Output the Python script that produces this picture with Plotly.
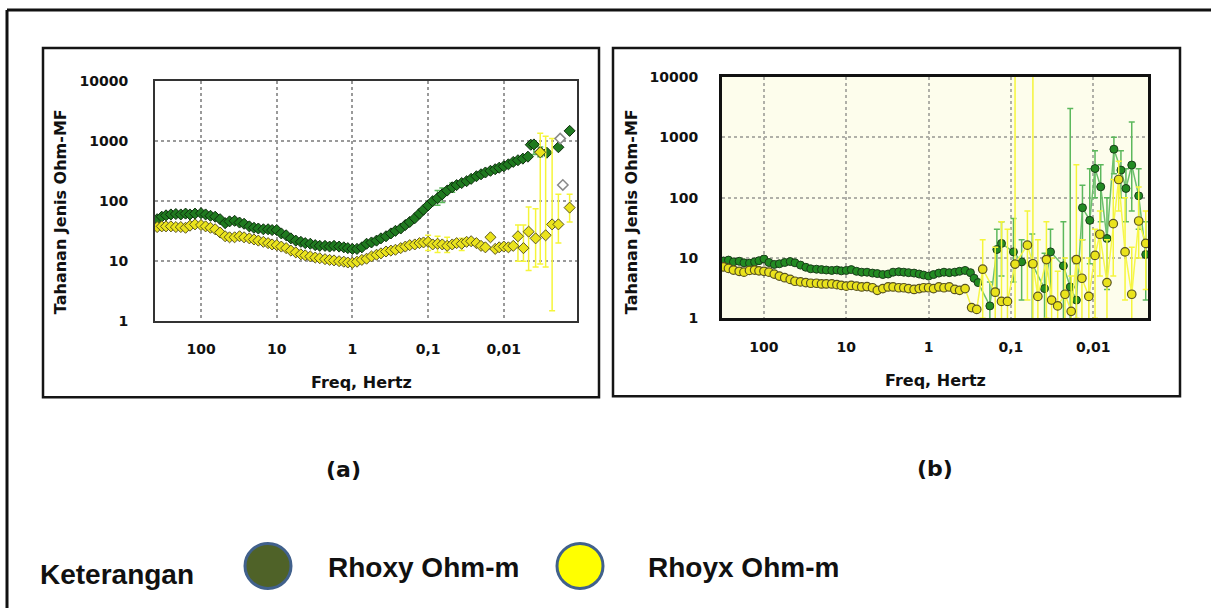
import plotly.graph_objects as go

W, H = 1211, 608

# ---------------- Panel (a) ----------------
a_freq_xy = [380, 330, 290, 250, 215, 185, 160, 140, 120, 100,
             87, 75, 65, 56, 48, 42, 36, 31, 27, 23,
             20, 17.5, 15, 13, 11.5, 10, 8.7, 7.5, 6.5, 5.6,
             4.8, 4.2, 3.6, 3.1, 2.7, 2.3, 2.0, 1.75, 1.5, 1.3,
             1.15, 1.0, 0.87, 0.75, 0.65, 0.56, 0.48, 0.42, 0.36, 0.31,
             0.27, 0.23, 0.2, 0.175, 0.15, 0.13, 0.115, 0.1, 0.087, 0.075,
             0.065, 0.056, 0.048, 0.042, 0.036, 0.031, 0.027, 0.023, 0.02, 0.0175,
             0.015, 0.013, 0.0115, 0.01, 0.0087, 0.0075, 0.0065, 0.0056, 0.0048,
             0.0044, 0.0040, 0.0033, 0.0027, 0.0019, 0.00135]
a_rho_xy = [50, 55, 58, 60, 61, 60, 62, 60, 62, 63,
            60, 57, 55, 50, 43, 46, 47, 44, 42, 38,
            36, 35, 34, 34, 33, 33, 29, 27, 24, 22,
            21, 20, 19.5, 18.5, 18, 18, 17.5, 18, 17.5, 17,
            16.5, 16, 16, 17, 19.5, 20.5, 22, 24, 26, 29,
            32, 35, 40, 45, 52, 62, 72, 85, 100, 112,
            130, 150, 170, 185, 200, 215, 235, 260, 280, 300,
            320, 340, 360, 380, 410, 450, 480, 510, 550,
            870, 880, 660, 640, 790, 1480]
a_err_xy = {0.075: (150, 85), 0.065: (165, 95), 0.048: (200, 140),
            0.0040: (1000, 600), 0.0033: (800, 550)}

a_freq_yx = [380, 330, 290, 250, 215, 185, 160, 140, 120, 100,
             87, 75, 65, 56, 48, 42, 36, 31, 27, 23,
             20, 17.5, 15, 13, 11.5, 10, 8.7, 7.5, 6.5, 5.6,
             4.8, 4.2, 3.6, 3.1, 2.7, 2.3, 2.0, 1.75, 1.5, 1.3,
             1.15, 1.0, 0.87, 0.75, 0.65, 0.56, 0.48, 0.42, 0.36, 0.31,
             0.27, 0.23, 0.2, 0.175, 0.15, 0.13, 0.115, 0.1, 0.087, 0.075,
             0.065, 0.056, 0.048, 0.042, 0.036, 0.031, 0.027, 0.023, 0.02, 0.0175,
             0.015, 0.013, 0.0115, 0.01, 0.0087, 0.0075,
             0.0065, 0.0055, 0.0047, 0.0038, 0.0033, 0.0028, 0.0023, 0.0019, 0.00135]
a_rho_yx = [37, 38, 38, 38, 37, 37, 36, 39, 41, 40,
            38, 36, 34, 30, 26, 25, 25, 26, 25, 24,
            23, 22, 21, 20, 19, 18.5, 17.5, 16.5, 15, 14,
            13, 12.5, 12, 11.5, 11.2, 10.8, 10.5, 10.3, 10, 9.8,
            9.5, 9.4, 9.8, 10.5, 11, 12, 12.8, 13.5, 14.5, 15,
            15.5, 16.5, 17.5, 18.5, 19, 20, 20.5, 21, 19, 19.5,
            19, 18, 19, 20, 19.5, 21, 21.5, 20, 18, 17,
            25, 16, 17, 17.5, 17, 18,
            26, 16.5, 31, 24, 650, 27, 41, 41, 78]
a_err_yx = {0.1: (27, 15), 0.075: (26, 14), 0.056: (25, 14), 0.036: (24, 15),
            0.0065: (40, 10), 0.0055: (40, 10), 0.0047: (80, 7), 0.0038: (75, 8),
            0.0033: (1350, 9), 0.0028: (1200, 8), 0.0023: (1100, 1.5),
            0.0019: (130, 20), 0.00135: (130, 45)}

a_freq_out = [0.0018, 0.00166]
a_rho_out = [1100, 186]

# ---------------- Panel (b) ----------------
b_freq_xy = [310, 270, 235, 200, 175, 150, 130, 115, 100, 87,
             75, 65, 56, 48, 42, 36, 31, 27, 23, 20,
             17.5, 15, 13, 11.5, 10, 8.7, 7.5, 6.5, 5.6, 4.8,
             4.2, 3.6, 3.1, 2.7, 2.3, 2.0, 1.75, 1.5, 1.3, 1.15,
             1.0, 0.87, 0.75, 0.65, 0.56, 0.48, 0.42, 0.36, 0.31, 0.28,
             0.25,
             0.18, 0.148, 0.13, 0.093, 0.074, 0.055, 0.039, 0.033, 0.023, 0.019,
             0.016, 0.0135, 0.011, 0.0095, 0.0081, 0.0068, 0.0056, 0.0046, 0.004, 0.0034,
             0.0028, 0.0023]
b_rho_xy = [8.9, 9.2, 8.6, 8.8, 8.3, 8.2, 8.6, 9.0, 9.6, 8.4,
            7.8, 8.0, 8.4, 8.7, 8.3, 7.6, 7.0, 6.6, 6.5, 6.4,
            6.3, 6.2, 6.3, 6.1, 6.2, 6.4, 6.0, 5.8, 5.8, 5.6,
            5.5, 5.3, 5.4, 5.8, 5.9, 5.8, 5.7, 5.6, 5.4, 5.2,
            5.0, 5.3, 5.6, 5.8, 5.7, 5.8, 6.0, 6.2, 5.7, 4.6,
            3.9,
            1.6, 13.8, 17.4, 12.6, 8.6, 7.9, 3.1, 12.6, 7.4, 3.3,
            2.0, 68, 42, 304, 151, 21, 636, 286, 142, 347,
            107, 11.4]
b_err_xy = {0.18: (4, 0.8), 0.148: (30, 3), 0.13: (40, 5), 0.093: (45, 4),
            0.074: (20, 2), 0.055: (25, 0.5), 0.039: (12, 0.5), 0.033: (30, 2),
            0.023: (40, 0.5), 0.019: (3000, 0.5), 0.016: (8, 0.5), 0.0135: (160, 20),
            0.011: (300, 8), 0.0095: (600, 100), 0.0081: (350, 40), 0.0068: (100, 3),
            0.0056: (1000, 250), 0.0046: (600, 100), 0.004: (300, 40),
            0.0034: (1800, 60), 0.0028: (300, 30), 0.0023: (40, 2)}

b_freq_yx = [310, 270, 235, 200, 175, 150, 130, 115, 100, 87,
             75, 65, 56, 48, 42, 36, 31, 27, 23, 20,
             17.5, 15, 13, 11.5, 10, 8.7, 7.5, 6.5, 5.6, 4.8,
             4.2, 3.6, 3.1, 2.7, 2.3, 2.0, 1.75, 1.5, 1.3, 1.15,
             1.0, 0.87, 0.75, 0.65, 0.56, 0.48, 0.42, 0.36,
             0.30, 0.26, 0.22, 0.155, 0.13, 0.11, 0.089, 0.063, 0.054, 0.047,
             0.037, 0.032, 0.027, 0.022, 0.0185, 0.016, 0.0137, 0.0113, 0.0095, 0.0083,
             0.0068, 0.0057, 0.0049, 0.0041, 0.0034, 0.0028, 0.0023]
b_rho_yx = [7.1, 6.7, 6.3, 6.0, 5.8, 6.2, 6.3, 6.1, 6.0, 5.8,
            5.4, 5.0, 4.7, 4.4, 4.1, 4.0, 3.9, 3.8, 3.8, 3.7,
            3.7, 3.7, 3.6, 3.5, 3.4, 3.5, 3.4, 3.3, 3.35, 3.2,
            2.9, 3.1, 3.3, 3.3, 3.2, 3.2, 3.1, 3.0, 3.1, 3.2,
            3.2, 3.1, 3.3, 3.2, 3.3, 3.0, 2.9, 3.1,
            1.5, 1.4, 6.5, 2.7, 1.9, 1.9, 7.9, 16.3, 8.0, 2.3,
            9.4, 2.0, 1.6, 2.5, 1.3, 9.4, 4.6, 2.3, 11, 24.7,
            3.9, 37, 200, 12.6, 2.5, 41, 17.4]
b_err_yx = {0.22: (20, 1), 0.155: (15, 0.5), 0.13: (40, 0.5), 0.11: (30, 0.5),
            0.089: (50000, 0.5), 0.063: (60, 2), 0.054: (50000, 0.5), 0.047: (20, 0.5),
            0.037: (40, 1), 0.032: (10, 0.5), 0.027: (6, 0.5), 0.022: (10, 0.5),
            0.0185: (5, 0.5), 0.016: (350, 1), 0.0137: (20, 0.5), 0.0113: (10, 0.5),
            0.0095: (30, 1), 0.0083: (60, 5), 0.0068: (20, 0.5), 0.0057: (200, 5),
            0.0049: (400, 60), 0.0041: (100, 2), 0.0034: (15, 0.5), 0.0028: (150, 10),
            0.0023: (60, 3)}

y_tickvals = [1, 10, 100, 1000, 10000]
y_ticktext = ["1", "10", "100", "1000", "10000"]
x_tickvals = [100, 10, 1, 0.1, 0.01]
x_ticktext = ["100", "10", "1", "0,1", "0,01"]

legend_labels = ["Rhoxy Ohm-m", "Rhoyx Ohm-m"]


def err_arrays(freqs, vals, errs):
    plus, minus = [], []
    for f, v in zip(freqs, vals):
        if f in errs:
            top, bot = errs[f]
            plus.append(top - v)
            minus.append(v - bot)
        else:
            plus.append(None)
            minus.append(None)
    return plus, minus


# layout helpers: target screen pixel -> paper fraction
# (vertical placement corrected for the observed 8px / 0.973 page shift)
VY0, VS = 8.0, 0.973


def px(x):
    return x / W


def py(y):
    return 1 - ((y - VY0) / VS) / H


GREEN = "#1f7a1f"
GREEN_EDGE = "#0f300f"
YELLOW = "#eae31c"
YELLOW_EDGE = "#5a5520"
GREEN_ERR = "#5cb85c"
YELLOW_ERR = "#f5f53a"

fig = go.Figure()

# Panel (a) traces
p, m = err_arrays(a_freq_xy, a_rho_xy, a_err_xy)
fig.add_trace(go.Scatter(
    x=a_freq_xy, y=a_rho_xy, mode="markers", xaxis="x", yaxis="y",
    marker=dict(symbol="diamond", size=8.5, color=GREEN, line=dict(color=GREEN_EDGE, width=1)),
    error_y=dict(type="data", array=p, arrayminus=m, color=GREEN_ERR, thickness=1.5, width=3),
    showlegend=False))
p, m = err_arrays(a_freq_yx, a_rho_yx, a_err_yx)
fig.add_trace(go.Scatter(
    x=a_freq_yx, y=a_rho_yx, mode="markers", xaxis="x", yaxis="y",
    marker=dict(symbol="diamond", size=8.5, color=YELLOW, line=dict(color=YELLOW_EDGE, width=1)),
    error_y=dict(type="data", array=p, arrayminus=m, color=YELLOW_ERR, thickness=1.5, width=3),
    showlegend=False))
fig.add_trace(go.Scatter(
    x=a_freq_out, y=a_rho_out, mode="markers", xaxis="x", yaxis="y",
    marker=dict(symbol="diamond", size=8, color="white", line=dict(color="#8a8a8a", width=1.5)),
    showlegend=False))

# Panel (b) traces
p, m = err_arrays(b_freq_xy, b_rho_xy, b_err_xy)
fig.add_trace(go.Scatter(
    x=b_freq_xy, y=b_rho_xy, mode="lines+markers", xaxis="x2", yaxis="y2",
    line=dict(color="#6cc06c", width=1.5),
    marker=dict(symbol="circle", size=8, color="#228b22", line=dict(color="#1a3d1a", width=1)),
    error_y=dict(type="data", array=p, arrayminus=m, color=GREEN_ERR, thickness=1.5, width=3),
    showlegend=False))
p, m = err_arrays(b_freq_yx, b_rho_yx, b_err_yx)
fig.add_trace(go.Scatter(
    x=b_freq_yx, y=b_rho_yx, mode="lines+markers", xaxis="x2", yaxis="y2",
    line=dict(color="#f7f74a", width=1.5),
    marker=dict(symbol="circle", size=8.5, color=YELLOW, line=dict(color=YELLOW_EDGE, width=1.2)),
    error_y=dict(type="data", array=p, arrayminus=m, color=YELLOW_ERR, thickness=1.5, width=3),
    showlegend=False))

tickfont = dict(family="DejaVu Sans", size=14, color="#111", weight="bold")


def xaxis_cfg(dom, rng, lw, lc, gc, anchor):
    return dict(domain=dom, type="log", range=rng, tickvals=x_tickvals, ticktext=x_ticktext,
                anchor=anchor, showgrid=True, gridcolor=gc, griddash="dot", gridwidth=2,
                showline=True, mirror=True, linecolor=lc, linewidth=lw,
                ticks="", tickfont=tickfont, ticklabelstandoff=14, zeroline=False)


def yaxis_cfg(dom, anchor, lw, lc, gc, standoff):
    return dict(domain=dom, type="log", range=[0, 4], tickvals=y_tickvals, ticktext=y_ticktext,
                anchor=anchor, showgrid=True, gridcolor=gc, griddash="dot", gridwidth=2,
                showline=True, mirror=True, linecolor=lc, linewidth=lw,
                ticks="", tickfont=tickfont, ticklabelstandoff=standoff, zeroline=False)


fig.update_layout(
    width=W, height=H, margin=dict(l=0, r=0, t=0, b=0),
    paper_bgcolor="white", plot_bgcolor="white",
    xaxis=xaxis_cfg([px(155), px(577)], [2.608, -2.967], 2, "#333", "#9a9a9a", "y"),
    yaxis=yaxis_cfg([py(321), py(81)], "x", 2, "#333", "#9a9a9a", 22),
    xaxis2=xaxis_cfg([px(722), px(1148)], [2.51, -2.666], 3, "#111", "#b0b0a8", "y2"),
    yaxis2=yaxis_cfg([py(318), py(77)], "x2", 3, "#111", "#b0b0a8", 18),
)

shapes = [
    # panel (b) cream background
    dict(type="rect", xref="x2 domain", yref="y2 domain", x0=0, x1=1, y0=0, y1=1,
         fillcolor="#fdfdec", line=dict(width=0), layer="below"),
    # outer frame (top and left edges)
    dict(type="line", xref="paper", yref="paper", x0=px(7), x1=px(1230), y0=py(10), y1=py(10),
         line=dict(color="#111", width=3)),
    dict(type="line", xref="paper", yref="paper", x0=px(7), x1=px(7), y0=py(10), y1=py(640),
         line=dict(color="#111", width=3)),
    # panel boxes
    dict(type="rect", xref="paper", yref="paper", x0=px(43), x1=px(599), y0=py(397), y1=py(48),
         line=dict(color="#151515", width=2.5)),
    dict(type="rect", xref="paper", yref="paper", x0=px(613), x1=px(1180), y0=py(396), y1=py(48),
         line=dict(color="#151515", width=2.5)),
    # legend symbols
    dict(type="circle", xref="paper", yref="paper", x0=px(245), x1=px(291), y0=py(588), y1=py(543),
         fillcolor="#4f6228", line=dict(color="#41618c", width=3)),
    dict(type="circle", xref="paper", yref="paper", x0=px(557), x1=px(603), y0=py(588), y1=py(543),
         fillcolor="#ffff00", line=dict(color="#41618c", width=3)),
]
fig.update_layout(shapes=shapes)

title_font = dict(family="DejaVu Sans", size=16, color="#111", weight="bold")
lab_font = dict(family="DejaVu Sans", size=22, color="#111", weight="bold")
leg_font = dict(family="Liberation Sans", size=28, color="#111", weight="bold")

annotations = [
    dict(text="Tahanan Jenis Ohm-MF", x=px(60), y=py(212), textangle=-90, font=title_font),
    dict(text="Freq, Hertz", x=px(361), y=py(382), font=title_font),
    dict(text="Tahanan Jenis Ohm-MF", x=px(631), y=py(212), textangle=-90, font=title_font),
    dict(text="Freq, Hertz", x=px(935), y=py(380), font=title_font),
    dict(text="(a)", x=px(343), y=py(469), font=lab_font),
    dict(text="(b)", x=px(935), y=py(468), font=lab_font),
    dict(text="Keterangan", x=px(38), y=py(574), xanchor="left", font=leg_font),
    dict(text=legend_labels[0], x=px(326), y=py(567), xanchor="left", font=leg_font),
    dict(text=legend_labels[1], x=px(646), y=py(567), xanchor="left", font=leg_font),
]
for a in annotations:
    a.update(xref="paper", yref="paper", showarrow=False)
    a.setdefault("xanchor", "center")
    a.setdefault("yanchor", "middle")
fig.update_layout(annotations=annotations)

fig.write_html(
    "out.html",
    config={"displayModeBar": False},
    post_script="document.body.style.margin='0';document.body.style.overflow='hidden';",
)
